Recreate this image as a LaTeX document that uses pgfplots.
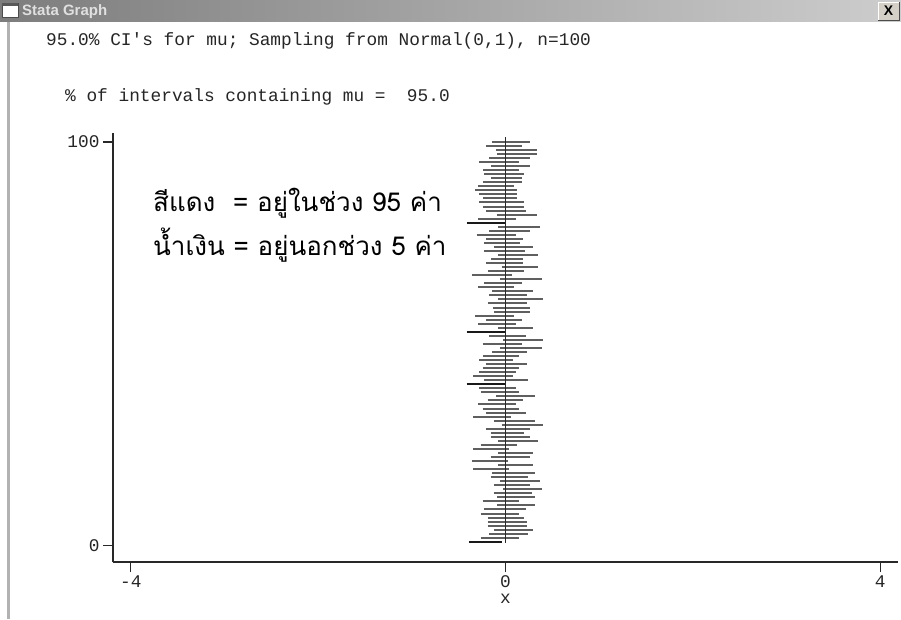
\documentclass[border=0pt]{standalone}
\usepackage{pgfplots}
\pgfplotsset{compat=1.18}
\usepackage{pgfplotstable}
\usepackage{fontspec}
\setmainfont{Liberation Sans}
\newfontfamily\stata{Liberation Mono}
\newfontfamily\thaifont[Script=Thai]{Loma}
\definecolor{ciGray}{RGB}{95,95,95}
\definecolor{ciDark}{RGB}{25,25,25}
\definecolor{axGray}{RGB}{40,40,40}
\definecolor{tbL}{RGB}{125,125,125}
\definecolor{tbR}{RGB}{205,205,205}
\definecolor{btn}{RGB}{212,208,200}

% intervals containing mu (x = endpoint, y = sample number), nan rows separate intervals
\pgfplotstableread{
x y
-0.148 100
0.262 100
nan nan
-0.209 99
0.180 99
nan nan
-0.102 98
0.333 98
nan nan
-0.087 97
0.333 97
nan nan
-0.173 96
0.262 96
nan nan
-0.280 95
0.144 95
nan nan
-0.159 94
0.262 94
nan nan
-0.237 93
0.144 93
nan nan
-0.226 92
0.197 92
nan nan
-0.159 91
0.180 91
nan nan
-0.244 90
0.173 90
nan nan
-0.290 89
0.091 89
nan nan
-0.326 88
0.126 88
nan nan
-0.280 87
0.126 87
nan nan
-0.237 86
0.126 86
nan nan
-0.280 85
0.197 85
nan nan
-0.244 84
0.197 84
nan nan
-0.209 83
0.215 83
nan nan
-0.095 82
0.333 82
nan nan
-0.290 81
0.112 81
nan nan
-0.077 79
0.368 79
nan nan
-0.173 78
0.262 78
nan nan
-0.308 77
0.112 77
nan nan
-0.209 76
0.183 76
nan nan
-0.226 75
0.155 75
nan nan
-0.123 74
0.297 74
nan nan
-0.226 73
0.208 73
nan nan
-0.077 72
0.351 72
nan nan
-0.155 71
0.190 71
nan nan
-0.209 70
0.190 70
nan nan
-0.041 69
0.351 69
nan nan
-0.191 68
0.197 68
nan nan
-0.362 67
0.066 67
nan nan
-0.059 66
0.386 66
nan nan
-0.226 65
0.180 65
nan nan
-0.290 64
0.091 64
nan nan
-0.141 63
0.297 63
nan nan
-0.173 62
0.233 62
nan nan
-0.077 61
0.404 61
nan nan
-0.191 60
0.233 60
nan nan
-0.137 59
0.262 59
nan nan
-0.123 58
0.262 58
nan nan
-0.326 57
0.091 57
nan nan
-0.209 56
0.180 56
nan nan
-0.290 55
0.112 55
nan nan
-0.077 54
0.297 54
nan nan
-0.173 52
0.215 52
nan nan
-0.023 51
0.404 51
nan nan
-0.244 50
0.180 50
nan nan
-0.059 49
0.386 49
nan nan
-0.141 48
0.233 48
nan nan
-0.244 47
0.144 47
nan nan
-0.280 46
0.076 46
nan nan
-0.209 45
0.233 45
nan nan
-0.244 44
0.144 44
nan nan
-0.280 43
0.112 43
nan nan
-0.344 42
0.076 42
nan nan
-0.226 41
0.244 41
nan nan
-0.280 39
0.112 39
nan nan
-0.262 38
0.144 38
nan nan
-0.102 37
0.315 37
nan nan
-0.191 36
0.190 36
nan nan
-0.290 35
0.112 35
nan nan
-0.244 34
0.144 34
nan nan
-0.209 33
0.215 33
nan nan
-0.344 32
0.059 32
nan nan
-0.123 31
0.315 31
nan nan
-0.041 30
0.404 30
nan nan
-0.209 29
0.262 29
nan nan
-0.159 28
0.197 28
nan nan
-0.159 27
0.262 27
nan nan
-0.077 26
0.351 26
nan nan
-0.262 25
0.126 25
nan nan
-0.344 24
0.041 24
nan nan
-0.077 23
0.297 23
nan nan
-0.159 22
0.262 22
nan nan
-0.362 21
0.030 21
nan nan
-0.077 20
0.297 20
nan nan
-0.344 19
0.041 19
nan nan
-0.141 18
0.315 18
nan nan
-0.159 17
0.244 17
nan nan
-0.059 16
0.368 16
nan nan
-0.123 15
0.262 15
nan nan
-0.023 14
0.386 14
nan nan
-0.123 13
0.279 13
nan nan
-0.087 12
0.315 12
nan nan
-0.244 11
0.144 11
nan nan
-0.087 10
0.315 10
nan nan
-0.226 9
0.215 9
nan nan
-0.262 8
0.144 8
nan nan
-0.191 7
0.197 7
nan nan
-0.191 6
0.233 6
nan nan
-0.191 5
0.233 5
nan nan
-0.123 4
0.297 4
nan nan
-0.173 3
0.244 3
nan nan
-0.262 2
0.144 2
}\inside

% intervals not containing mu
\pgfplotstableread{
x y
-0.415 80
-0.006 80
nan nan
-0.415 53
-0.006 53
nan nan
-0.415 40
-0.006 40
nan nan
-0.390 1
-0.041 1
}\outside

\begin{document}
\begin{tikzpicture}[x=1pt,y=1pt]
\path[use as bounding box] (0,0) rectangle (901,619);
\fill[white] (0,0) rectangle (901,619);
% window frame
\shade[left color=tbL, right color=tbR] (0,597) rectangle (901,619);
\fill[white] (2,602) rectangle (18,616);
\draw[black!70, line width=0.8pt] (2,602) rectangle (18,616);
\fill[black!65] (2,612.5) rectangle (18,616);
\node[anchor=base west, inner sep=0pt, text=white!88!black,
      font=\fontspec{Liberation Sans Bold}\fontsize{15}{17}\selectfont] at (22,603) {Stata Graph};
\fill[btn] (878,599) rectangle (899,617);
\draw[white, line width=0.8pt] (878,599) -- (878,617) -- (899,617);
\draw[black!70, line width=0.8pt] (878,599) -- (899,599) -- (899,617);
\node[inner sep=0pt, font=\fontspec{Liberation Sans Bold}\fontsize{14}{16}\selectfont] at (888.5,608) {X};
\fill[black!30] (7,0) rectangle (10,597);
% titles
\node[anchor=base west, inner sep=0pt, font=\stata\fontsize{17.8}{20}\selectfont, text=black!85]
  at (46,573) {95.0\% CI's for mu; Sampling from Normal(0,1), n=100};
\node[anchor=base west, inner sep=0pt, font=\stata\fontsize{17.8}{20}\selectfont, text=black!85]
  at (65,517) {\% of intervals containing mu =\ \ 95.0};
\begin{axis}[
  at={(113pt,57pt)}, anchor=south west, scale only axis,
  width=785pt, height=429pt,
  xmin=-4.19, xmax=4.19, ymin=-4, ymax=102.2,
  axis lines=left, axis line style={-, line width=1.3pt, draw=axGray},
  xtick={-4,0,4}, xticklabels={-4,0,4},
  ytick={0,100}, yticklabels={0,100},
  tick align=outside, major tick length=10pt,
  tick style={line width=1.3pt, draw=axGray},
  ticklabel style={font=\stata\fontsize{17.8}{20}\selectfont, text=black!85},
  xlabel={x}, xlabel style={font=\stata\fontsize{17.8}{20}\selectfont, text=black!85},
  unbounded coords=jump, clip=false,
]
\addplot[ciGray, line width=2pt] table[x=x, y=y] {\inside};
\addplot[ciDark, line width=2pt] table[x=x, y=y] {\outside};
\addplot[axGray, line width=1.7pt] coordinates {(0,0.8) (0,101.3)};
\end{axis}
% annotation
\node[anchor=base west, inner sep=0pt, font=\thaifont\fontsize{26}{30}\selectfont]
  at (153,407) {สีแดง\hspace{0.35em} = อยู่ในช่วง 95 ค่า};
\node[anchor=base west, inner sep=0pt, font=\thaifont\fontsize{26}{30}\selectfont]
  at (153,363) {น้ำเงิน = อยู่นอกช่วง 5 ค่า};
\end{tikzpicture}
\end{document}
